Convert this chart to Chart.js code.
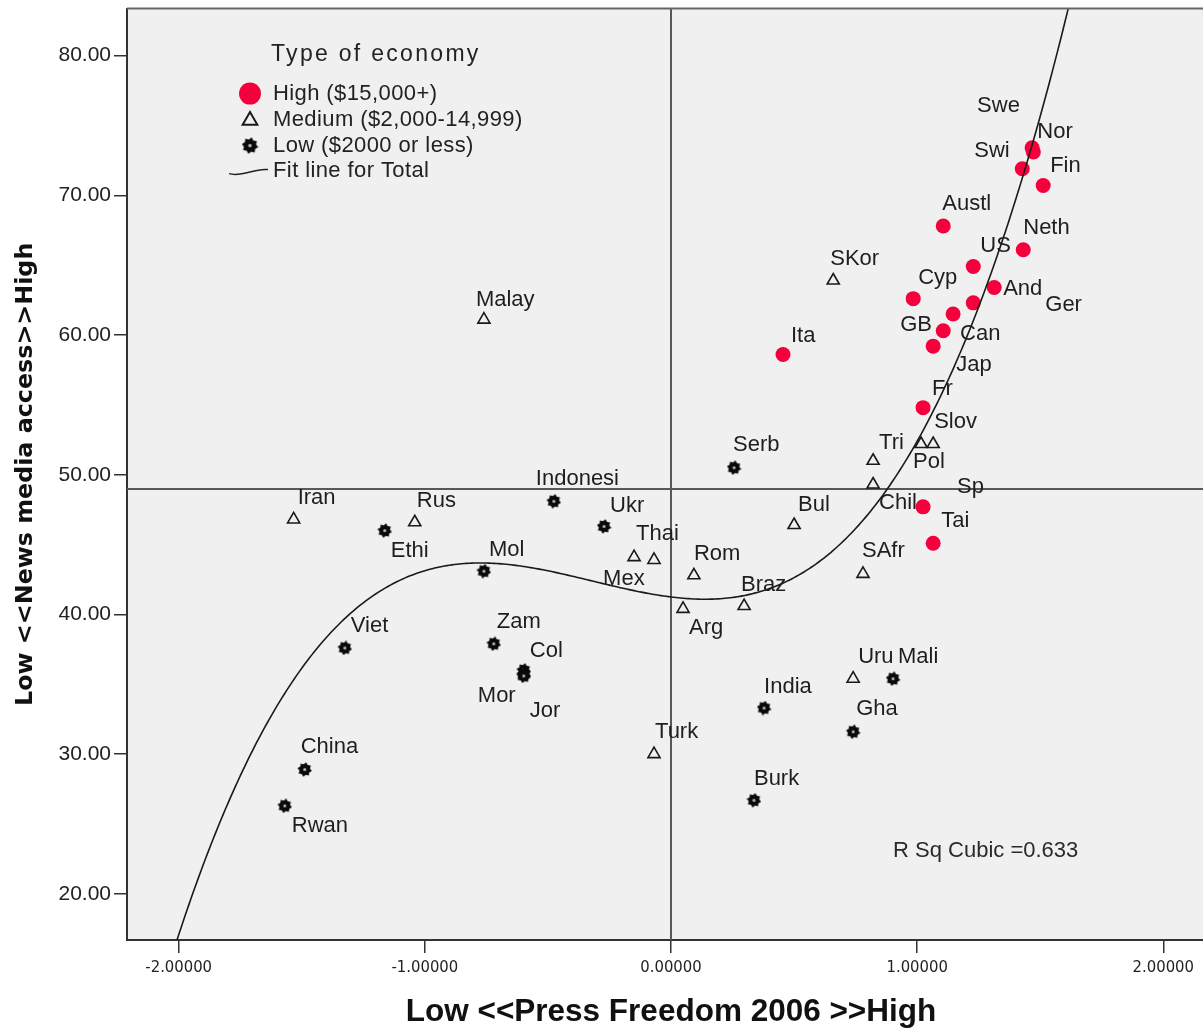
<!DOCTYPE html>
<html><head><meta charset="utf-8">
<script src="https://cdn.jsdelivr.net/npm/chart.js@4"></script>
<style>html,body{margin:0;padding:0;background:#fff;overflow:hidden}#wrap{width:1225px;height:1028px}</style>
</head><body><div id="wrap"><canvas id="c" width="1225" height="1028"></canvas></div>
<script>
// ---------- data ----------
const highNames = ["Swe","Nor","Swi","Fin","Austl","Neth","US","And","Cyp","Ger","Can","GB","Jap","Ita","Fr","Sp","Tai"];
const highX = [1.467,1.472,1.427,1.512,1.106,1.431,1.228,1.313,0.984,1.228,1.146,1.106,1.065,0.455,1.024,1.024,1.065];
const highY = [73.4,73.1,71.9,70.7,67.8,66.1,64.9,63.4,62.6,62.3,61.5,60.3,59.2,58.6,54.8,47.7,45.1];

const medNames = ["SKor","Malay","Tri","Chil","Slov","Pol","Iran","Rus","Thai","Mex","Bul","Rom","Arg","Braz","SAfr","Uru","Turk"];
const medX = [0.659,-0.760,0.821,0.821,1.065,1.016,-1.533,-1.041,-0.069,-0.150,0.500,0.093,0.049,0.297,0.780,0.740,-0.069];
const medY = [63.9,61.1,51.0,49.3,52.2,52.2,46.8,46.6,43.9,44.1,46.4,42.8,40.4,40.6,42.9,35.4,30.0];

const lowNames = ["Serb","Indonesi","Ukr","Ethi","Mol","Viet","Zam","Col","Mor","Jor","Mali","India","Gha","Burk","China","Rwan"];
const lowX = [0.256,-0.476,-0.272,-1.163,-0.760,-1.325,-0.720,-0.598,-0.598,-0.598,0.902,0.378,0.740,0.337,-1.488,-1.569];
const lowY = [50.5,48.1,46.3,46.0,43.1,37.6,37.9,36.0,35.7,35.6,35.4,33.3,31.6,26.7,28.9,26.3];

const seriesLabels = ["High ($15,000+)","Medium ($2,000-14,999)","Low ($2000 or less)","Fit line for Total"];
const legendTitle = "Type of economy";
const xTicks = [-2,-1,0,1,2];
const yTicks = [20,30,40,50,60,70,80];
const fitCoef = [41.25,-2.195,6.513,6.828]; // cubic fit: a + b x + c x^2 + d x^3
const rSqText = "R Sq Cubic =0.633";
const refX = 0;
const refY = 49.0;
const xTitle = "Low <<Press Freedom 2006 >>High";
const yTitle = "Low <<News media access>>High";

// ---------- label offsets (px, layout only) ----------
const labelOffsets = {
 Swe:[-55,-42],Nor:[4,-20],Swi:[-48,-18],Fin:[7,-20],Austl:[-1,-22],Neth:[0,-22],US:[7,-21],And:[9,1],Cyp:[5,-21],
 Ger:[72,2],Can:[7,20],GB:[-43,-6],Jap:[23,19],Ita:[8,-19],Fr:[9,-19],Sp:[34,-20],Tai:[8,-22],
 SKor:[-3,-22],Malay:[-8,-20],Tri:[6,-18],Chil:[6,18],Slov:[1,-22],Pol:[-8,18],Iran:[4,-21],Rus:[2,-21],
 Thai:[-18,-26],Mex:[-31,22],Bul:[4,-20],Rom:[0,-21],Arg:[6,19],Braz:[-3,-21],SAfr:[-1,-23],Uru:[5,-22],Turk:[1,-22],
 Serb:[-1,-23],Indonesi:[-18,-22],Ukr:[6,-20],Ethi:[6,20],Mol:[5,-21],Viet:[6,-22],Zam:[3,-22],Col:[6,-19],
 Mor:[-46,21],Jor:[6,35],Mali:[5,-22],India:[0,-21],Gha:[3,-23],Burk:[0,-21],China:[-4,-23],Rwan:[7,20]
};

const zip = (xs, ys) => xs.map((x,i)=>({x:x,y:ys[i]}));
const fit = x => fitCoef[0]+fitCoef[1]*x+fitCoef[2]*x*x+fitCoef[3]*x*x*x;
const XMIN=-2.21, XMAX=2.21, YMIN=16.7, YMAX=83.36;
const curve = [];
for (let i=0;i<=442;i++){ const x = XMIN + i*0.01; curve.push({x:x, y:fit(x)}); }

function makeStar(size){
  const c=document.createElement('canvas'); c.width=size; c.height=size;
  const g=c.getContext('2d'); g.translate(size/2,size/2);
  const ro=size/2-0.2, ri=ro*0.74;
  g.beginPath();
  for(let i=0;i<16;i++){const r=i%2?ri:ro; const a=i*Math.PI/8+Math.PI/16; g.lineTo(r*Math.cos(a), r*Math.sin(a));}
  g.closePath(); g.fillStyle='#0a0a0a'; g.fill();
  g.beginPath(); g.arc(0,0,size*0.1,0,2*Math.PI); g.fillStyle='#bdbdbd'; g.fill();
  return c;
}
const star = makeStar(15);
const starLegend = makeStar(17);
const RED = '#f5003d';
const FONT = "'Liberation Sans', Arial, sans-serif";

const bgPlugin = {
  id:'bg',
  beforeDraw(chart){
    const {ctx, chartArea:a} = chart;
    ctx.save(); ctx.fillStyle='#f0f0f0'; ctx.fillRect(a.left,a.top,a.right-a.left,a.bottom-a.top); ctx.restore();
  },
  beforeDatasetsDraw(chart){
    const {ctx, chartArea:a, scales} = chart;
    ctx.save(); ctx.strokeStyle='#585858'; ctx.lineWidth=2;
    const px = Math.round(scales.x.getPixelForValue(refX));
    const py = Math.round(scales.y.getPixelForValue(refY));
    ctx.beginPath(); ctx.moveTo(px,a.top); ctx.lineTo(px,a.bottom); ctx.stroke();
    ctx.beginPath(); ctx.moveTo(a.left,py); ctx.lineTo(a.right,py); ctx.stroke();
    ctx.restore();
  },
  afterDraw(chart){
    const {ctx, chartArea:a, scales} = chart;
    ctx.save();
    // top border
    ctx.strokeStyle='#666'; ctx.lineWidth=2;
    ctx.beginPath(); ctx.moveTo(a.left,a.top); ctx.lineTo(a.right,a.top); ctx.stroke();
    // point labels
    ctx.fillStyle='#1e1e1e'; ctx.font="22px "+FONT; ctx.textAlign='left'; ctx.textBaseline='middle';
    chart.data.datasets.forEach((ds,di)=>{
      if(!ds.names) return;
      const meta = chart.getDatasetMeta(di);
      meta.data.forEach((el,i)=>{
        const o = labelOffsets[ds.names[i]] || [5,-20];
        ctx.fillText(ds.names[i], el.x+o[0], el.y+o[1]);
      });
    });
    // R sq text
    ctx.fillStyle='#2a2a2a';
    ctx.fillText(rSqText, a.left+766, a.top+842);
    // legend
    const L = a.left, T = a.top;
    ctx.fillStyle='#222'; ctx.font="23px "+FONT;
    ctx.letterSpacing='2.3px';
    ctx.fillText(legendTitle, L+144, T+46);
    ctx.letterSpacing='0.4px';
    ctx.font="22px "+FONT;
    const rows=[85,111,137,162];
    const sx=L+123, tx=L+146;
    // high
    ctx.beginPath(); ctx.arc(sx,T+rows[0],11,0,2*Math.PI); ctx.fillStyle=RED; ctx.fill();
    // medium
    ctx.fillStyle='rgba(0,0,0,0)'; ctx.strokeStyle='#1a1a1a';
    Chart.helpers.drawPoint(ctx,{pointStyle:'triangle',radius:8.5,borderWidth:1.7},sx,T+rows[1]+1);
    // low
    ctx.drawImage(starLegend, sx-8.5, T+rows[2]-8.5);
    // fit
    ctx.strokeStyle='#222'; ctx.lineWidth=1.5;
    ctx.beginPath(); ctx.moveTo(L+102,T+rows[3]+3); ctx.bezierCurveTo(L+115,T+rows[3]+7,L+128,T+rows[3]-3,L+141,T+rows[3]-1); ctx.stroke();
    ctx.fillStyle='#222';
    seriesLabels.forEach((s,i)=>ctx.fillText(s, tx, T+rows[i]));
    ctx.letterSpacing='0px';
    // axis titles
    ctx.fillStyle='#111';
    ctx.font="bold 31.5px "+FONT; ctx.textAlign='center';
    ctx.fillText(xTitle, (a.left+a.right)/2, 1012);
    ctx.save(); ctx.translate(26,(a.top+a.bottom)/2); ctx.rotate(-Math.PI/2);
    ctx.font="bold 23.8px 'DejaVu Sans', sans-serif";
    ctx.fillText(yTitle,0,0); ctx.restore();
    ctx.restore();
  }
};

new Chart(document.getElementById('c'), {
  type:'scatter',
  data:{datasets:[
    {label:seriesLabels[3], data:curve, showLine:true, pointRadius:0, borderColor:'#1a1a1a', borderWidth:1.6, order:0, tension:0},
    {label:seriesLabels[0], names:highNames, data:zip(highX,highY), pointStyle:'circle', pointRadius:7.5, backgroundColor:RED, borderColor:RED, borderWidth:0, order:3},
    {label:seriesLabels[1], names:medNames, data:zip(medX,medY), pointStyle:'triangle', pointRadius:7, backgroundColor:'rgba(0,0,0,0)', borderColor:'#1a1a1a', borderWidth:1.6, order:2},
    {label:seriesLabels[2], names:lowNames, data:zip(lowX,lowY), pointStyle:star, pointRadius:7, backgroundColor:'#111', borderColor:'#111', order:1}
  ]},
  options:{
    responsive:false, animation:false, events:[],
    layout:{padding:{top:7,right:10,left:0,bottom:0}},
    plugins:{legend:{display:false}, tooltip:{enabled:false}},
    scales:{
      x:{type:'linear', min:XMIN, max:XMAX,
        afterBuildTicks:s=>{s.ticks = xTicks.map(v=>({value:v}));},
        afterFit:s=>{s.height=88; s.paddingLeft=0; s.paddingRight=0;},
        ticks:{callback:v=>Number(v).toFixed(5), color:'#222', padding:5, maxRotation:0,
          font:{family:"'Liberation Sans Narrow','Arial Narrow','DejaVu Sans Condensed',sans-serif", size:16.5}},
        grid:{drawOnChartArea:false, drawTicks:true, tickLength:13, color:'#333', lineWidth:1.5},
        border:{display:true, color:'#333', width:2}
      },
      y:{type:'linear', min:YMIN, max:YMAX,
        afterBuildTicks:s=>{s.ticks = yTicks.map(v=>({value:v}));},
        afterFit:s=>{s.width=127; s.paddingTop=0; s.paddingBottom=0;},
        ticks:{callback:v=>Number(v).toFixed(2), color:'#222', padding:3,
          font:{family:FONT, size:21}},
        grid:{drawOnChartArea:false, drawTicks:true, tickLength:13, color:'#333', lineWidth:1.5},
        border:{display:true, color:'#333', width:2}
      }
    }
  },
  plugins:[bgPlugin]
});
</script>
</body></html>
